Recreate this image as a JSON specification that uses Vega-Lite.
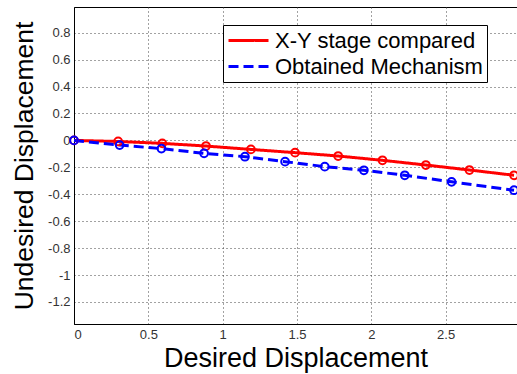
{
  "$schema": "https://vega.github.io/schema/vega-lite/v6.json",
  "autosize": "none",
  "width": 443,
  "height": 317,
  "padding": {"left": 74, "top": 7, "right": 0, "bottom": 50},
  "background": "white",
  "config": {
    "view": {"stroke": "black", "strokeWidth": 1},
    "font": "Liberation Sans",
    "axis": {
      "labelFont": "Liberation Sans",
      "titleFont": "Liberation Sans",
      "labelFontSize": 13,
      "labelColor": "#333",
      "titleFontWeight": "normal",
      "titleColor": "black",
      "domainColor": "black",
      "domainWidth": 1,
      "ticks": false,
      "labelPadding": 4,
      "grid": true,
      "gridColor": "#444",
      "gridDash": [1, 3],
      "gridWidth": 1,
      "gridOpacity": 1
    }
  },
  "data": {
    "values": [
      {"x": 0, "y": 0, "series": "X-Y stage compared"},
      {"x": 0.297, "y": -0.008, "series": "X-Y stage compared"},
      {"x": 0.594, "y": -0.022, "series": "X-Y stage compared"},
      {"x": 0.888, "y": -0.042, "series": "X-Y stage compared"},
      {"x": 1.19, "y": -0.067, "series": "X-Y stage compared"},
      {"x": 1.487, "y": -0.091, "series": "X-Y stage compared"},
      {"x": 1.777, "y": -0.116, "series": "X-Y stage compared"},
      {"x": 2.075, "y": -0.148, "series": "X-Y stage compared"},
      {"x": 2.367, "y": -0.183, "series": "X-Y stage compared"},
      {"x": 2.66, "y": -0.22, "series": "X-Y stage compared"},
      {"x": 2.96, "y": -0.259, "series": "X-Y stage compared"},
      {"x": 0, "y": 0, "series": "Obtained Mechanism"},
      {"x": 0.307, "y": -0.035, "series": "Obtained Mechanism"},
      {"x": 0.588, "y": -0.061, "series": "Obtained Mechanism"},
      {"x": 0.875, "y": -0.096, "series": "Obtained Mechanism"},
      {"x": 1.15, "y": -0.121, "series": "Obtained Mechanism"},
      {"x": 1.42, "y": -0.158, "series": "Obtained Mechanism"},
      {"x": 1.687, "y": -0.195, "series": "Obtained Mechanism"},
      {"x": 1.95, "y": -0.222, "series": "Obtained Mechanism"},
      {"x": 2.225, "y": -0.259, "series": "Obtained Mechanism"},
      {"x": 2.54, "y": -0.308, "series": "Obtained Mechanism"},
      {"x": 2.96, "y": -0.37, "series": "Obtained Mechanism"}
    ]
  },
  "encoding": {
    "x": {
      "field": "x", "type": "quantitative",
      "scale": {"domain": [0, 2.98], "nice": false, "zero": false},
      "axis": {
        "values": [0, 0.5, 1, 1.5, 2, 2.5],
        "title": "Desired Displacement",
        "titleFontSize": 27,
        "titlePadding": 4,
        "labelPadding": 4,
        "labelExpr": "format(datum.value, '~g')"
      }
    },
    "y": {
      "field": "y", "type": "quantitative",
      "scale": {"domain": [-1.364, 0.991], "nice": false, "zero": false},
      "axis": {
        "values": [-1.2, -1, -0.8, -0.6, -0.4, -0.2, 0, 0.2, 0.4, 0.6, 0.8],
        "title": "Undesired Displacement",
        "titleFontSize": 26.5,
        "titlePadding": 9,
        "labelExpr": "replace(format(datum.value, '~g'), '\u2212', '-')"
      }
    },
    "color": {
      "field": "series", "type": "nominal",
      "scale": {"domain": ["X-Y stage compared", "Obtained Mechanism"], "range": ["#ff0000", "#0000ff"]},
      "legend": {
        "title": null,
        "orient": "none",
        "legendX": 149,
        "legendY": 18,
        "strokeColor": "black",
        "fillColor": "white",
        "padding": 4,
        "symbolType": "M-2,0H2",
        "symbolSize": 400,
        "symbolOffset": 10,
        "symbolStrokeWidth": 3,
        "labelFontSize": 22,
        "labelFont": "Liberation Sans",
        "labelColor": "black",
        "labelOffset": 15,
        "rowPadding": 3,
        "labelLimit": 400
      }
    }
  },
  "layer": [
    {
      "mark": {"type": "line", "strokeWidth": 3},
      "encoding": {
        "strokeDash": {
          "field": "series", "type": "nominal",
          "scale": {"domain": ["X-Y stage compared", "Obtained Mechanism"], "range": [[1, 0], [10, 5]]},
          "legend": {
            "title": null,
            "orient": "none",
            "legendX": 149,
            "legendY": 18,
            "strokeColor": "black",
            "fillColor": "white",
            "padding": 4,
            "symbolType": "M-2,0H2",
            "symbolSize": 400,
            "symbolOffset": 10,
            "symbolStrokeWidth": 3,
            "labelFontSize": 22,
            "labelFont": "Liberation Sans",
            "labelColor": "black",
            "labelOffset": 15,
            "rowPadding": 3,
            "labelLimit": 400
          }
        }
      }
    },
    {
      "mark": {"type": "point", "shape": "circle", "filled": false, "size": 60, "strokeWidth": 2, "opacity": 1}
    }
  ]
}
